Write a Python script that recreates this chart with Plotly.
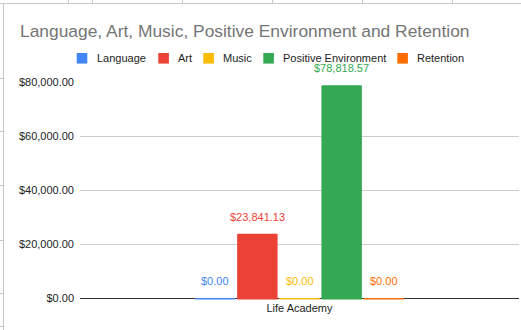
import plotly.graph_objects as go

# Data
categories = ["Life Academy"]
series_names = ["Language", "Art", "Music", "Positive Environment", "Retention"]
series_values = [[0.00], [23841.13], [0.00], [78818.57], [0.00]]
series_colors = ["#4285F4", "#EA4335", "#FBBC04", "#34A853", "#FF6D01"]
y_tick_values = [0, 20000, 40000, 60000, 80000]
y_tick_labels = ["$0.00", "$20,000.00", "$40,000.00", "$60,000.00", "$80,000.00"]

# Canvas / layout geometry (pixels)
W, H = 521, 330
ML, MR, MT, MB = 80, 2, 82, 32
PW, PH = W - ML - MR, H - MT - MB
BARGAP = 0.52
BARGROUPGAP = 0.04
AXIS_LW = 1.4
FONT = "Liberation Sans, Arial, sans-serif"
N = len(series_names)


def px_x(px):
    return (px - ML) / PW


def px_y(py):
    return 1 - (py - MT) / PH


fig = go.Figure()
for name, vals, color in zip(series_names, series_values, series_colors):
    fig.add_trace(go.Bar(
        name=name, x=categories, y=vals,
        marker=dict(color=color, line=dict(width=0), cornerradius=1.5),
        showlegend=False,
        hovertemplate="%{y:$,.2f}<extra>" + name + "</extra>",
    ))

shapes = []
annotations = []

# Each bar's baseline stroke in its own color, drawn over the axis line
# (keeps zero-value bars visible). x in axis units: category c spans
# [c-0.5, c+0.5] and the bar group covers 1-bargap of it.
slot_units = (1 - BARGAP) / N
base_y = -(AXIS_LW / 2) / PH
for i, (vals, color) in enumerate(zip(series_values, series_colors)):
    for c, v in enumerate(vals):
        left = c - (1 - BARGAP) / 2 + i * slot_units
        shapes.append(dict(
            type="line", xref="x", yref="paper", layer="above",
            x0=left + slot_units * BARGROUPGAP / 2,
            x1=left + slot_units * (1 - BARGROUPGAP / 2),
            y0=base_y, y1=base_y,
            line=dict(color=color, width=AXIS_LW),
        ))

# Value labels above each bar, colored like the bar
slot_px = PW * slot_units
for i, (vals, color) in enumerate(zip(series_values, series_colors)):
    for cat, v in zip(categories, vals):
        annotations.append(dict(
            x=cat, y=v, xref="x", yref="y",
            xshift=(i - (N - 1) / 2) * slot_px,
            yshift=9, yanchor="bottom", xanchor="center",
            text=f"${v:,.2f}", showarrow=False,
            font=dict(family=FONT, size=11, color=color),
        ))

# Legend row: colored squares with labels
legend_square_left = [76.7, 158.3, 203.3, 263.3, 397.3]
legend_y = 58.3
sq = 10.6
for left, name, color in zip(legend_square_left, series_names, series_colors):
    shapes.append(dict(
        type="rect", xref="paper", yref="paper",
        x0=px_x(left), x1=px_x(left + sq),
        y0=px_y(legend_y + sq / 2), y1=px_y(legend_y - sq / 2),
        fillcolor=color, line=dict(width=0),
    ))
    annotations.append(dict(
        xref="paper", yref="paper", x=px_x(left + sq + 7.5), y=px_y(legend_y),
        xanchor="left", yanchor="middle", text=name, showarrow=False,
        font=dict(family=FONT, size=11, color="#222222"),
    ))

# Surrounding sheet grid lines
grid_col = "#c8c8c8"
shapes.append(dict(type="line", xref="paper", yref="paper",
                   x0=px_x(0), x1=px_x(W), y0=px_y(3.5), y1=px_y(3.5),
                   line=dict(color=grid_col, width=1)))
shapes.append(dict(type="line", xref="paper", yref="paper",
                   x0=px_x(3.5), x1=px_x(3.5), y0=px_y(3.5), y1=px_y(H),
                   line=dict(color=grid_col, width=1)))
for cx in [68.5, 92.5, 182.5, 272.5, 362.5, 452.5]:
    shapes.append(dict(type="line", xref="paper", yref="paper",
                       x0=px_x(cx), x1=px_x(cx), y0=px_y(0), y1=px_y(3.5),
                       line=dict(color=grid_col, width=1)))
for ry in [78.5, 131.5, 185.5, 240.5, 293.5, 326.5]:
    shapes.append(dict(type="line", xref="paper", yref="paper",
                       x0=px_x(0), x1=px_x(3.5), y0=px_y(ry), y1=px_y(ry),
                       line=dict(color=grid_col, width=1)))

fig.update_layout(
    width=W, height=H,
    margin=dict(l=ML, r=MR, t=MT, b=MB),
    paper_bgcolor="white", plot_bgcolor="white",
    barmode="group", bargap=BARGAP, bargroupgap=BARGROUPGAP,
    showlegend=False,
    title=dict(
        text="Language, Art, Music, Positive Environment and Retention",
        x=20 / W, xanchor="left", xref="container",
        y=1 - 31 / H, yanchor="middle", yref="container",
        font=dict(family=FONT, size=17.4, color="#757575"),
    ),
    font=dict(family=FONT, size=11, color="#222222"),
    xaxis=dict(
        showline=True, linecolor="#333333", linewidth=AXIS_LW,
        showgrid=False, ticks="", tickfont=dict(size=11, color="#222222"),
        layer="below traces", fixedrange=True,
    ),
    yaxis=dict(
        range=[0, 80000], tickvals=y_tick_values, ticktext=y_tick_labels,
        showgrid=True, gridcolor="#cccccc", gridwidth=1,
        zeroline=False, showline=False, ticks="",
        ticklabelstandoff=5,
        tickfont=dict(size=11, color="#222222"),
        layer="below traces", fixedrange=True,
    ),
    shapes=shapes,
    annotations=annotations,
)

fig.write_html("out.html")
